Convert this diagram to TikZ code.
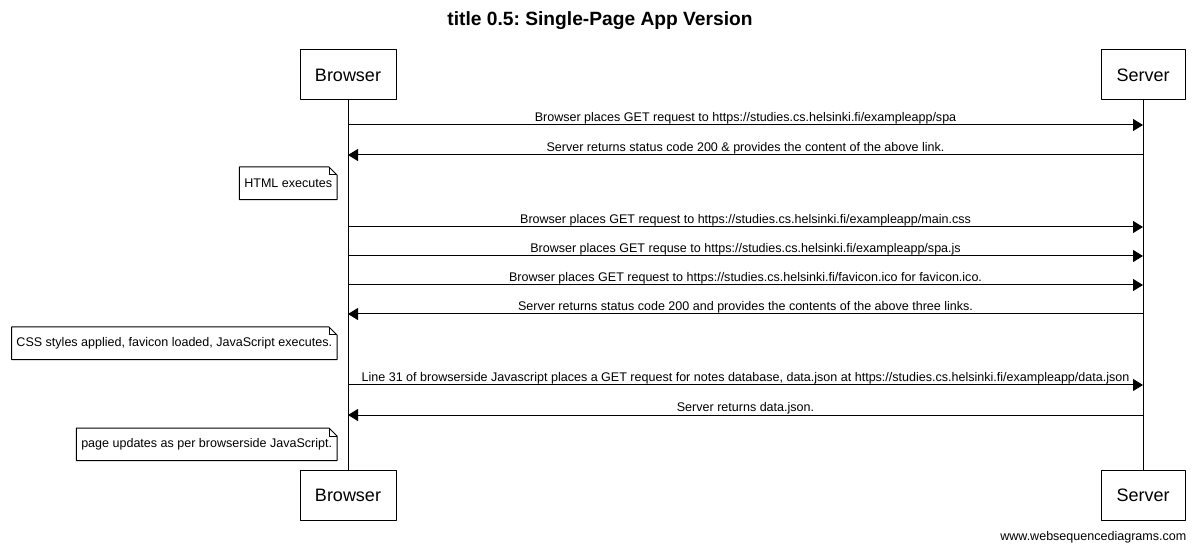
\documentclass[tikz,border=0pt]{standalone}
\usepackage{fontspec}
\setmainfont{Liberation Sans}
\usetikzlibrary{arrows.meta}
\frenchspacing

\begin{document}
\begin{tikzpicture}[x=0.75pt, y=-0.75pt, line join=round,
		actor/.style={draw, line width=0.75pt, minimum height=37.5pt, font=\fontsize{13.5}{16}\selectfont},
		msg/.style={line width=0.75pt, -{Triangle[length=7.5pt,width=9pt]}},
		lbl/.style={above, inner sep=0.4pt, font=\fontsize{9.4}{11}\selectfont},
		note/.style={anchor=north east, minimum height=24pt, inner xsep=3.5pt, font=\fontsize{9.4}{11}\selectfont}]
					\useasboundingbox (0,0) rectangle (1200,552);
					\node[font=\bfseries\fontsize{14.4}{17}\selectfont] (title) at (600,21) {title 0.5: Single-Page App Version};
			
					\node[actor, minimum width=72pt] (browser) at (348,75) {Browser};
					\node[actor, minimum width=63pt] (server) at (1143,75) {Server};
					\node[actor, minimum width=72pt] (browserend) at (348,495) {Browser};
					\node[actor, minimum width=63pt] (serverend) at (1143,495) {Server};
					\draw[line width=0.75pt] (browser.south) -- (browserend.north);
					\draw[line width=0.75pt] (server.south) -- (serverend.north);
			
					\foreach \n/\y in {1/125,2/155,3/227,4/256,5/285,6/314,7/385,8/415} {
						\coordinate (b\n) at (348,\y);
						\coordinate (s\n) at (1143,\y);
					}
			
					\draw[msg] (b1) -- node[lbl] {Browser places GET request to https://studies.cs.helsinki.fi/exampleapp/spa} (s1);
					\draw[msg] (s2) -- node[lbl] {Server returns status code 200 \& provides the content of the above link.} (b2);
					\draw[msg] (b3) -- node[lbl] {Browser places GET request to https://studies.cs.helsinki.fi/exampleapp/main.css} (s3);
					\draw[msg] (b4) -- node[lbl] {Browser places GET requse to https://studies.cs.helsinki.fi/exampleapp/spa.js} (s4);
					\draw[msg] (b5) -- node[lbl] {Browser places GET request to https://studies.cs.helsinki.fi/favicon.ico for favicon.ico.} (s5);
					\draw[msg] (s6) -- node[lbl] {Server returns status code 200 and provides the contents of the above three links.} (b6);
					\draw[msg] (b7) -- node[lbl] {Line 31 of browserside Javascript places a GET request for notes database, data.json at https://studies.cs.helsinki.fi/exampleapp/data.json} (s7);
					\draw[msg] (s8) -- node[lbl] {Server returns data.json.} (b8);
			
					\node[note] (html) at (337,167) {HTML executes};
					\node[note] (css) at (337,327) {CSS styles applied, favicon loaded, JavaScript executes.};
					\node[note] (page) at (337,428) {page updates as per browserside JavaScript.};
					\foreach \n in {html,css,page} {
						\draw[line width=0.75pt] (\n.south west) -- (\n.north west) -- ([xshift=-6pt]\n.north east) -- ([yshift=-6pt]\n.north east) -- (\n.south east) -- cycle;
						\draw[line width=0.75pt] ([xshift=-6pt]\n.north east) |- ([yshift=-6pt]\n.north east);
					}
			
					\node[anchor=east, font=\fontsize{9.4}{11}\selectfont] (site) at (1191,537) {www.websequencediagrams.com};
				\end{tikzpicture}
\end{document}
